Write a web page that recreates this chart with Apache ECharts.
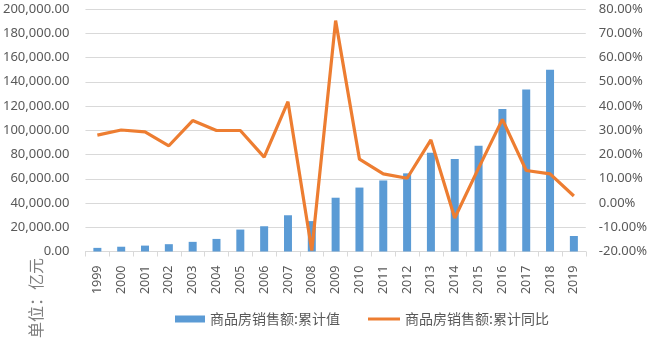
<!DOCTYPE html>
<html>
<head>
<meta charset="utf-8">
<script src="https://cdn.jsdelivr.net/npm/echarts@6/dist/echarts.min.js"></script>
<style>
html,body{margin:0;padding:0;background:#fff;}
#chart{width:650px;height:341px;}
</style>
</head>
<body>
<div id="chart"></div>
<script>
const years = ['1999','2000','2001','2002','2003','2004','2005','2006','2007','2008','2009','2010','2011','2012','2013','2014','2015','2016','2017','2018','2019'];
const salesValue = [2988, 3935, 4863, 6032, 7956, 10376, 18080, 20826, 29889, 25068, 44355, 52721, 58589, 64456, 81428, 76292, 87281, 117627, 133701, 149973, 12803];
const salesYoY = [28.0, 30.1, 29.3, 23.6, 34.0, 29.9, 29.9, 18.9, 41.8, -19.6, 75.2, 18.1, 12.0, 10.2, 26.0, -6.2, 14.4, 34.5, 13.4, 12.0, 2.9];
const seriesNames = ['商品房销售额:累计值', '商品房销售额:累计同比'];
const unitLabel = '单位：亿元';

const chart = echarts.init(document.getElementById('chart'));
const gray = '#595959';
const font = "'Noto Sans', 'Open Sans', sans-serif";
const legendText = {color: gray, fontSize: 14, fontFamily: "'Noto Sans CJK SC', sans-serif"};
chart.setOption({
  animation: false,
  backgroundColor: '#fff',
  grid: {left: 81, right: 62, top: 9, bottom: 89.5},
  legend: [{
    left: 170, top: 307,
    itemWidth: 30, itemHeight: 7,
    textStyle: legendText,
    data: [{name: seriesNames[0], icon: 'rect'}]
  }, {
    left: 363, top: 307,
    itemWidth: 32, itemHeight: 3,
    textStyle: legendText,
    data: [{name: seriesNames[1], icon: 'rect'}]
  }],
  graphic: [{
    type: 'text', x: 28, y: 338, rotation: Math.PI/2,
    style: {text: unitLabel, fill: '#7f7f7f', fontSize: 16, fontFamily: "'Noto Sans CJK SC', sans-serif", textVerticalAlign: 'top', textAlign: 'left'}
  }],
  xAxis: {
    type: 'category', data: years,
    axisLine: {lineStyle: {color: '#d9d9d9'}},
    axisTick: {show: true, length: 5, lineStyle: {color: '#d9d9d9'}},
    axisLabel: {rotate: 90, color: gray, fontSize: 12.5, fontFamily: font, margin: 14}
  },
  yAxis: [{
    type: 'value', min: 0, max: 200000, interval: 20000,
    axisLine: {show: false}, axisTick: {show: false},
    splitLine: {lineStyle: {color: '#d9d9d9', width: 1}},
    axisLabel: {color: gray, fontSize: 13, fontFamily: font, margin: 16,
      formatter: v => v.toLocaleString('en-US', {minimumFractionDigits: 2, maximumFractionDigits: 2})}
  }, {
    type: 'value', min: -20, max: 80, interval: 10,
    axisLine: {show: false}, axisTick: {show: false},
    splitLine: {show: false},
    axisLabel: {color: gray, fontSize: 13, fontFamily: font, margin: 13,
      formatter: v => v.toFixed(2) + '%'}
  }],
  series: [{
    name: seriesNames[0], type: 'bar', data: salesValue, yAxisIndex: 0,
    barWidth: 8, itemStyle: {color: '#5B9BD5'}
  }, {
    name: seriesNames[1], type: 'line', data: salesYoY, yAxisIndex: 1,
    symbol: 'none', lineStyle: {color: '#ED7D31', width: 3.2}, itemStyle: {color: '#ED7D31'}
  }]
});
</script>
</body>
</html>
